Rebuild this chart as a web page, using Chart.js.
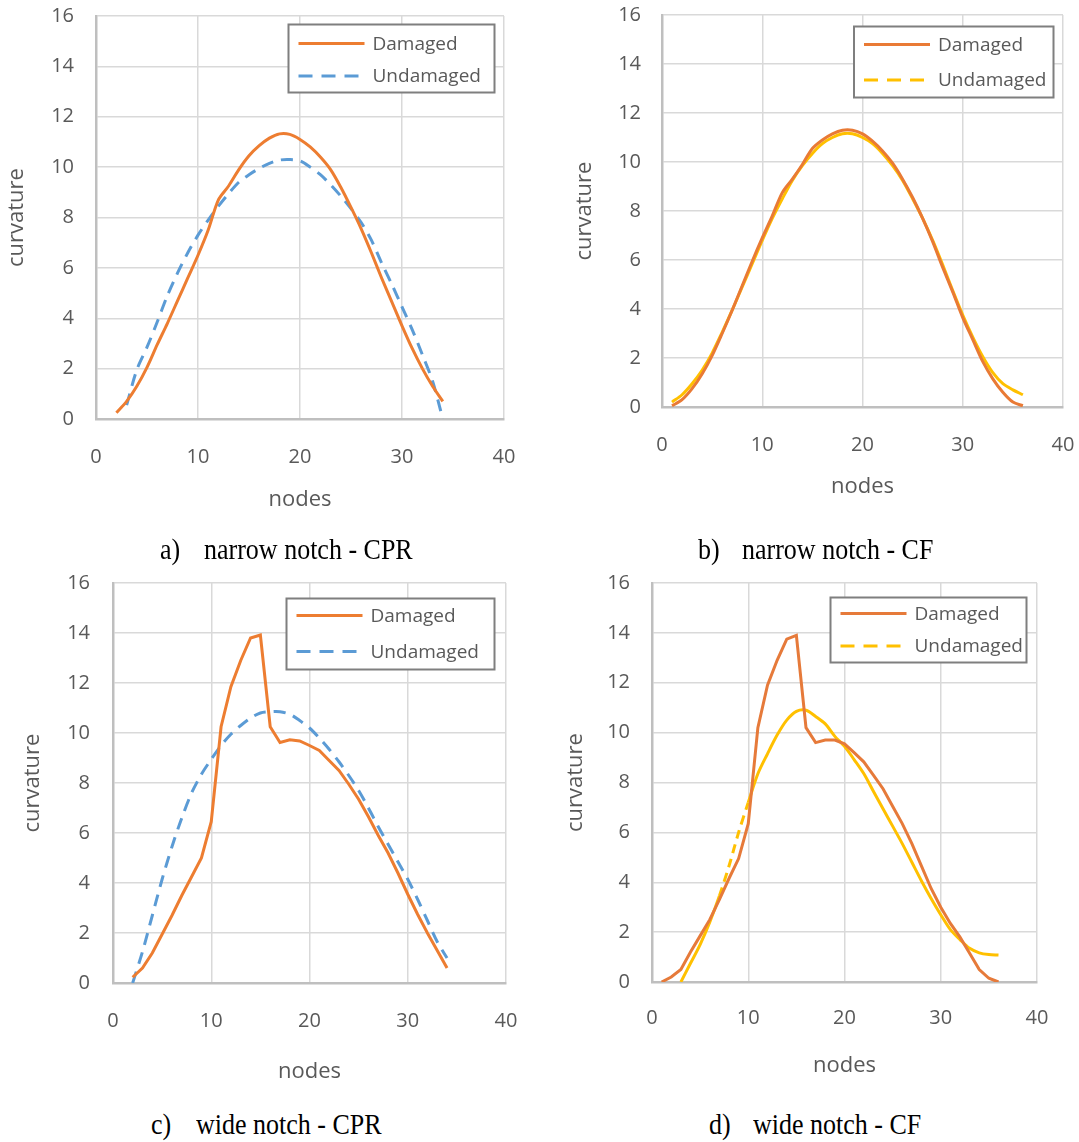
<!DOCTYPE html>
<html>
<head>
<meta charset="utf-8">
<script src="https://cdn.jsdelivr.net/npm/chart.js@4.4.1/dist/chart.umd.min.js"></script>
<style>
  html, body { margin: 0; padding: 0; background: #ffffff; }
  body { width: 1079px; height: 1142px; position: relative; overflow: hidden; }
  .panel { position: absolute; }
  .cap { position: absolute; font-family: "Liberation Serif", "Times New Roman", serif; font-size: 26px; color: #000; white-space: nowrap; line-height: 30px; transform: scaleY(1.15); transform-origin: 0 50%; }
</style>
</head>
<body>
<div class="panel" style="left:0px;top:0px;width:540px;height:520px"><canvas id="ca" width="540" height="520"></canvas></div>
<div class="panel" style="left:540px;top:0px;width:539px;height:520px"><canvas id="cb" width="539" height="520"></canvas></div>
<div class="panel" style="left:0px;top:560px;width:540px;height:540px"><canvas id="cc" width="540" height="540"></canvas></div>
<div class="panel" style="left:540px;top:560px;width:539px;height:540px"><canvas id="cd" width="539" height="540"></canvas></div>

<div class="cap" style="left:160px;top:535px">a)</div>
<div class="cap" style="left:204px;top:535px">narrow notch - CPR</div>
<div class="cap" style="left:698px;top:535px">b)</div>
<div class="cap" style="left:742px;top:535px">narrow notch - CF</div>
<div class="cap" style="left:151px;top:1110px">c)</div>
<div class="cap" style="left:196px;top:1110px">wide notch - CPR</div>
<div class="cap" style="left:709px;top:1110px">d)</div>
<div class="cap" style="left:753px;top:1110px">wide notch - CF</div>

<script>
// ---------------- DATA ----------------
const xTicks = [0, 10, 20, 30, 40];
const yTicks = [0, 2, 4, 6, 8, 10, 12, 14, 16];
const seriesLabels = ["Damaged", "Undamaged"];
const xTitle = "nodes";
const yTitle = "curvature";

// a) narrow notch - CPR
const aDamagedNodes = [2,3,4,5,6,7,8,9,10,11,12,13,14,15,16,17,18,19,20,21,22,23,24,25,26,27,28,29,30,31,32,33,34];
const aDamaged = [0.25,0.7,1.3,2.05,2.95,3.8,4.7,5.6,6.5,7.5,8.7,9.25,9.9,10.45,10.85,11.15,11.32,11.3,11.1,10.8,10.4,9.9,9.2,8.4,7.55,6.6,5.6,4.65,3.7,2.8,2.0,1.3,0.7];
const aUndamagedNodes = [3,4,5,6,7,8,9,10,11,12,13,14,15,16,17,18,19,20,21,22,23,24,25,26,27,28,29,30,31,32,33,34];
const aUndamaged = [0.55,1.95,2.85,3.85,4.9,5.8,6.6,7.3,7.9,8.45,8.95,9.4,9.7,9.95,10.15,10.28,10.3,10.25,10.0,9.7,9.3,8.85,8.35,7.8,7.1,6.2,5.35,4.45,3.55,2.55,1.5,0.0];

// b) narrow notch - CF
const bDamagedNodes = [1,2,3,4,5,6,7,8,9,10,11,12,13,14,15,16,17,18,19,20,21,22,23,24,25,26,27,28,29,30,31,32,33,34,35,36];
const bDamaged = [0.05,0.3,0.75,1.35,2.1,3.0,3.95,4.95,5.95,6.9,7.8,8.75,9.3,9.9,10.55,10.9,11.15,11.3,11.3,11.15,10.85,10.45,9.95,9.3,8.55,7.7,6.75,5.7,4.7,3.65,2.75,1.85,1.15,0.6,0.2,0.05];
const bUndamagedNodes = [1,2,3,4,5,6,7,8,9,10,11,12,13,14,15,16,17,18,19,20,21,22,23,24,25,26,27,28,29,30,31,32,33,34,35,36];
const bUndamaged = [0.2,0.5,0.95,1.5,2.2,3.05,3.95,4.9,5.85,6.8,7.7,8.5,9.25,9.85,10.35,10.75,11.0,11.15,11.15,11.0,10.75,10.35,9.85,9.25,8.5,7.7,6.8,5.8,4.75,3.75,2.85,2.05,1.4,0.95,0.7,0.5];

// c) wide notch - CPR
const cDamagedNodes = [2,3,4,5,6,7,8,9,10,11,12,13,14,15,16,17,18,19,20,21,22,23,24,25,26,27,28,29,30,31,32,33,34];
const cDamaged = [0.23,0.6,1.2,1.95,2.7,3.5,4.25,5.0,6.45,10.25,11.85,12.9,13.8,13.92,10.25,9.62,9.73,9.68,9.5,9.3,8.9,8.5,7.95,7.35,6.65,5.9,5.2,4.4,3.55,2.75,2.0,1.3,0.6];
const cUndamagedNodes = [2,3,4,5,6,7,8,9,10,11,12,13,14,15,16,17,18,19,20,21,22,23,24,25,26,27,28,29,30,31,32,33,34];
const cUndamaged = [0.0,1.25,2.7,4.15,5.45,6.6,7.6,8.35,8.95,9.5,9.95,10.3,10.6,10.8,10.85,10.85,10.75,10.5,10.2,9.8,9.35,8.85,8.3,7.7,7.0,6.25,5.55,4.85,4.15,3.35,2.5,1.65,1.0];

// d) wide notch - CF
const dDamagedNodes = [1,2,3,4,5,6,7,8,9,10,11,12,13,14,15,16,17,18,19,20,21,22,23,24,25,26,27,28,29,30,31,32,33,34,35,36];
const dDamaged = [0.0,0.2,0.5,1.2,1.85,2.5,3.3,4.15,4.95,6.35,10.2,11.9,12.9,13.75,13.9,10.2,9.6,9.7,9.7,9.55,9.2,8.83,8.3,7.75,7.05,6.35,5.55,4.65,3.75,3.0,2.35,1.8,1.15,0.5,0.15,0.0];
const dUndamagedNodes = [3,4,5,6,7,8,9,10,11,12,13,14,15,16,17,18,19,20,21,22,23,24,25,26,27,28,29,30,31,32,33,34,35,36];
const dUndamaged = [0.0,0.75,1.5,2.4,3.45,4.65,6.0,7.2,8.35,9.15,9.9,10.5,10.85,10.9,10.65,10.35,9.85,9.45,8.92,8.36,7.65,6.95,6.25,5.55,4.8,4.05,3.35,2.7,2.1,1.7,1.35,1.17,1.1,1.08];

// ---------------- STYLE / BUILD ----------------
const pts = (xs, ys) => xs.map((x, i) => ({ x: x, y: ys[i] }));
const GRAY = '#595959';
Chart.defaults.font.family = '"Open Sans", sans-serif';
Chart.defaults.color = GRAY;

const insideLegend = {
  id: 'insideLegend',
  afterDraw(chart, args, o) {
    const ctx = chart.ctx;
    const [x1, y1, x2, y2] = o.box;
    ctx.save();
    ctx.fillStyle = '#ffffff';
    ctx.fillRect(x1, y1, x2 - x1, y2 - y1);
    ctx.strokeStyle = '#7f7f7f';
    ctx.lineWidth = 2;
    ctx.setLineDash([]);
    ctx.strokeRect(x1, y1, x2 - x1, y2 - y1);
    chart.data.datasets.forEach((ds, i) => {
      const y = y1 + o.rows[i];
      ctx.beginPath();
      ctx.setLineDash(ds.legendDash || []);
      ctx.strokeStyle = ds.borderColor;
      ctx.lineWidth = ds.borderWidth;
      ctx.lineCap = 'butt';
      ctx.moveTo(x1 + 10, y);
      ctx.lineTo(x1 + 76, y);
      ctx.stroke();
      ctx.setLineDash([]);
      ctx.fillStyle = GRAY;
      ctx.font = '19px "Open Sans"';
      ctx.textBaseline = 'middle';
      ctx.textAlign = 'left';
      ctx.fillText(ds.label, x1 + 84, y + 1);
    });
    ctx.restore();
  }
};

function makeChart(id, cfg) {
  const datasets = cfg.series.map(s => ({
    label: s.label,
    data: s.data,
    borderColor: s.color,
    backgroundColor: s.color,
    borderWidth: 3,
    borderDash: s.dash || [],
    legendDash: s.legendDash || [],
    pointRadius: 0,
    pointHoverRadius: 0,
    tension: s.tension,
    fill: false,
    segment: s.segment || {}
  }));
  return new Chart(document.getElementById(id), {
    type: 'line',
    data: { datasets },
    plugins: [insideLegend],
    options: {
      responsive: false,
      animation: false,
      events: [],
      layout: { padding: { left: 0, right: cfg.padRight, top: cfg.padTop, bottom: 0 } },
      plugins: {
        legend: { display: false },
        tooltip: { enabled: false },
        insideLegend: { box: cfg.legendBox, rows: cfg.legendRows }
      },
      scales: {
        x: {
          type: 'linear', min: 0, max: 40,
          afterBuildTicks: s => { s.ticks = xTicks.map(v => ({ value: v })); },
          afterFit: s => { s.height = cfg.xAxisH; s.paddingLeft = 0; s.paddingRight = 0; },
          grid: { color: '#d9d9d9', lineWidth: 1.5, drawTicks: false },
          border: { display: true, color: '#bfbfbf', width: 2.5 },
          ticks: { padding: cfg.xTickPad, font: { size: 20 }, color: GRAY, maxRotation: 0 },
          title: { display: true, text: xTitle, font: { size: 22 }, color: GRAY, padding: { top: 0, bottom: cfg.xTitlePad } }
        },
        y: {
          type: 'linear', min: 0, max: 16,
          afterBuildTicks: s => { s.ticks = yTicks.map(v => ({ value: v })); },
          afterFit: s => { s.width = cfg.yAxisW; s.paddingTop = 0; s.paddingBottom = 0; },
          grid: { color: '#d9d9d9', lineWidth: 1.5, drawTicks: false },
          border: { display: true, color: '#bfbfbf', width: 2.5 },
          ticks: { padding: cfg.yTickPad, font: { size: 20 }, color: GRAY },
          title: { display: true, text: yTitle, font: { size: 22 }, color: GRAY, padding: { top: cfg.yTitlePad, bottom: 0 } }
        }
      }
    }
  });
}

const ORANGE = '#ed7d31';
const BLUE = '#5b9bd5';
const YELLOW = '#ffc000';
const dashRange = (lo, hi, dash) => ({
  borderDash: c => (c.p0.parsed.x >= lo && c.p1.parsed.x <= hi) ? dash : []
});

makeChart('ca', {
  padRight: 36, padTop: 16, xAxisH: 101, yAxisW: 96,
  xTickPad: 26, xTitlePad: 7, yTickPad: 22, yTitlePad: 4,
  legendBox: [288.5, 24.5, 494.5, 92.5], legendRows: [19, 51.5],
  series: [
    { label: seriesLabels[0], data: pts(aDamagedNodes, aDamaged), color: ORANGE, tension: 0.3 },
    { label: seriesLabels[1], data: pts(aUndamagedNodes, aUndamaged), color: BLUE, tension: 0.3, dash: [12, 8], legendDash: [14, 9] }
  ]
});

makeChart('cb', {
  padRight: 16, padTop: 15, xAxisH: 113, yAxisW: 122,
  xTickPad: 26, xTitlePad: 20, yTickPad: 21, yTitlePad: 32,
  legendBox: [314, 26.5, 513.5, 97.5], legendRows: [18, 53.5],
  series: [
    { label: seriesLabels[0], data: pts(bDamagedNodes, bDamaged), color: '#e97a35', tension: 0.3 },
    { label: seriesLabels[1], data: pts(bUndamagedNodes, bUndamaged), color: YELLOW, tension: 0.3, legendDash: [14, 9] }
  ]
});

makeChart('cc', {
  padRight: 34, padTop: 23, xAxisH: 117, yAxisW: 113,
  xTickPad: 26, xTitlePad: 15, yTickPad: 23, yTitlePad: 20,
  legendBox: [286.5, 38.5, 494.5, 109.5], legendRows: [17, 53],
  series: [
    { label: seriesLabels[0], data: pts(cDamagedNodes, cDamaged), color: ORANGE, tension: 0 },
    { label: seriesLabels[1], data: pts(cUndamagedNodes, cUndamaged), color: BLUE, tension: 0.3, dash: [12, 8], legendDash: [14, 9] }
  ]
});

makeChart('cd', {
  padRight: 42, padTop: 23, xAxisH: 118, yAxisW: 112,
  xTickPad: 24, xTitlePad: 21, yTickPad: 22, yTitlePad: 23,
  legendBox: [290.5, 37.5, 486.5, 102.5], legendRows: [16, 48.5],
  series: [
    { label: seriesLabels[0], data: pts(dDamagedNodes, dDamaged), color: '#e67a3a', tension: 0 },
    { label: seriesLabels[1], data: pts(dUndamagedNodes, dUndamaged), color: YELLOW, tension: 0.3, legendDash: [14, 9], segment: dashRange(7, 10, [9, 6]) }
  ]
});
</script>
</body>
</html>
